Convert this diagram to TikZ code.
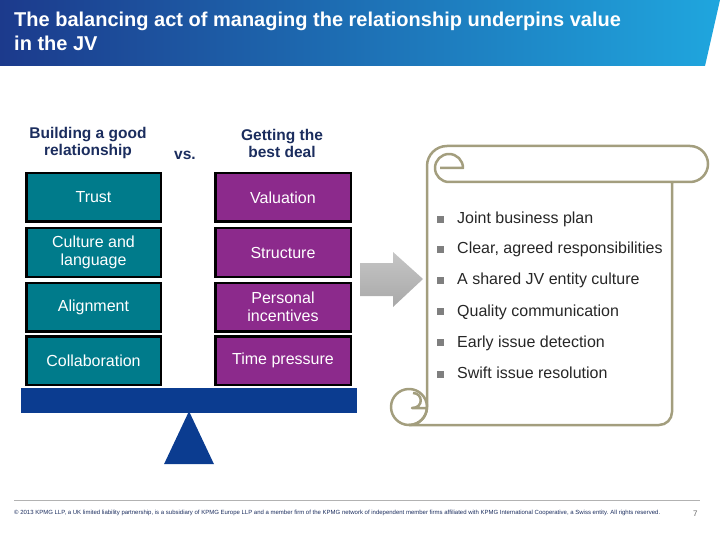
\documentclass[tikz,border=0pt]{standalone}
\usepackage{fontspec}
\setmainfont{Liberation Sans}
\usepackage{graphicx}
\definecolor{hdrL}{HTML}{1C3A8C}
\definecolor{hdrR}{HTML}{1FA6DE}
\definecolor{navy}{HTML}{1B2D5E}
\definecolor{tealbox}{HTML}{007B8B}
\definecolor{purplebox}{HTML}{8C2A8C}
\definecolor{beamblue}{HTML}{0B3C90}
\definecolor{scrollc}{HTML}{A39E7E}
\definecolor{bulletgray}{HTML}{7F7F7F}
\definecolor{txt}{HTML}{262626}
\begin{document}
\begin{tikzpicture}[x=1pt,y=-1pt,
  lbox/.style={draw=black, line width=2.5pt, fill=tealbox, text=white, minimum width=134.5pt, minimum height=48.5pt, inner sep=0pt, align=center, font=\fontsize{16}{17.5}\selectfont},
  rbox/.style={lbox, fill=purplebox, minimum width=135.5pt},
  head/.style={text=navy, font=\fontsize{15.5}{17}\selectfont\bfseries, align=center, inner sep=0pt},
  item/.style={anchor=base west, text=txt, font=\fontsize{16}{19}\selectfont, inner sep=0pt},
  bul/.style={fill=bulletgray, minimum size=7pt, inner sep=0pt},
  scroll/.style={draw=scrollc, line width=2.5pt, line join=round}
]
\useasboundingbox (0,0) rectangle (720,540);
% header
\shade[left color=hdrL, right color=hdrR] (0,0) -- (720,0) -- (705,66) -- (0,66) -- cycle;
\node[anchor=base west, inner sep=0pt, text=white, font=\fontsize{20}{23}\selectfont\bfseries] (title1) at (14,27) {The balancing act of managing the relationship underpins value};
\node[anchor=base west, inner sep=0pt, text=white, font=\fontsize{20}{23}\selectfont\bfseries] (title2) at (14,51) {in the JV};
% headings
\node[head] (hl) at (88,143) {Building a good\\relationship};
\node[head] (vs) at (185,155) {vs.};
\node[head] (hr) at (282,143) {Getting the\\best deal};
% boxes
\node[lbox] (l1) at (93.5,197.5) {Trust};
\node[lbox] (l2) at (93.5,252.5) {Culture and\\language};
\node[lbox] (l3) at (93.5,307) {Alignment};
\node[lbox] (l4) at (93.5,360.5) {Collaboration};
\node[rbox] (r1) at (283,197.5) {Valuation};
\node[rbox] (r2) at (283,252.5) {Structure};
\node[rbox] (r3) at (283,307) {Personal\\incentives};
\node[rbox] (r4) at (283,360.5) {Time pressure};
% balance
\node[fill=beamblue, minimum width=336pt, minimum height=25pt, inner sep=0pt] (beam) at (189,400.5) {};
\fill[beamblue] ([yshift=2pt]beam.south) -- ++(25,53) -- ++(-50,0) -- cycle;
% arrow
\shade[top color=gray!45, bottom color=gray!68] (360,263) -- (393,263) -- (393,252) -- (423,279) -- (393,307) -- (393,296) -- (360,296) -- cycle;
% scroll
\draw[scroll] (440,168) -- (463,168) arc[start angle=0, end angle=270, radius=14pt]
  -- (690,182) arc[start angle=-90, end angle=90, radius=18pt]
  -- (447,146) arc[start angle=90, end angle=180, radius=20pt]
  -- (427,407) arc[start angle=0, end angle=-90, radius=18pt]
  -- (659,425) arc[start angle=-90, end angle=0, radius=13pt]
  -- (672,182);
\draw[scroll] (409,407) circle[radius=18pt];
\draw[scroll] (413,393) .. controls (423,393) and (424,408) .. (412,408) -- (427,408);
% bullets
\node[bul] (b1) at (440,219.3) {};
\node[item] (t1) at (457,223.8) {Joint business plan};
\node[bul] (b2) at (440,249.3) {};
\node[item] (t2) at (457,253.8) {Clear, agreed responsibilities};
\node[bul] (b3) at (440,280.3) {};
\node[item] (t3) at (457,284.8) {A shared JV entity culture};
\node[bul] (b4) at (440,311.7) {};
\node[item] (t4) at (457,316.2) {Quality communication};
\node[bul] (b5) at (440,342.7) {};
\node[item] (t5) at (457,347.2) {Early issue detection};
\node[bul] (b6) at (440,374.3) {};
\node[item] (t6) at (457,378.8) {Swift issue resolution};
% footer
\draw[gray!60, line width=0.8pt] (14,500) -- (700,500);
\node[anchor=west, inner sep=0pt, text=navy] (foot) at (14,513) {\resizebox{646pt}{!}{\fontsize{6}{7}\selectfont \textcopyright{} 2013 KPMG LLP, a UK limited liability partnership, is a subsidiary of KPMG Europe LLP and a member firm of the KPMG network of independent member firms affiliated with KPMG International Cooperative, a Swiss entity. All rights reserved.}};
\node[anchor=west, inner sep=0pt, text=gray!80!black, font=\fontsize{8}{9}\selectfont] (page) at (693,514) {7};
\end{tikzpicture}
\end{document}
